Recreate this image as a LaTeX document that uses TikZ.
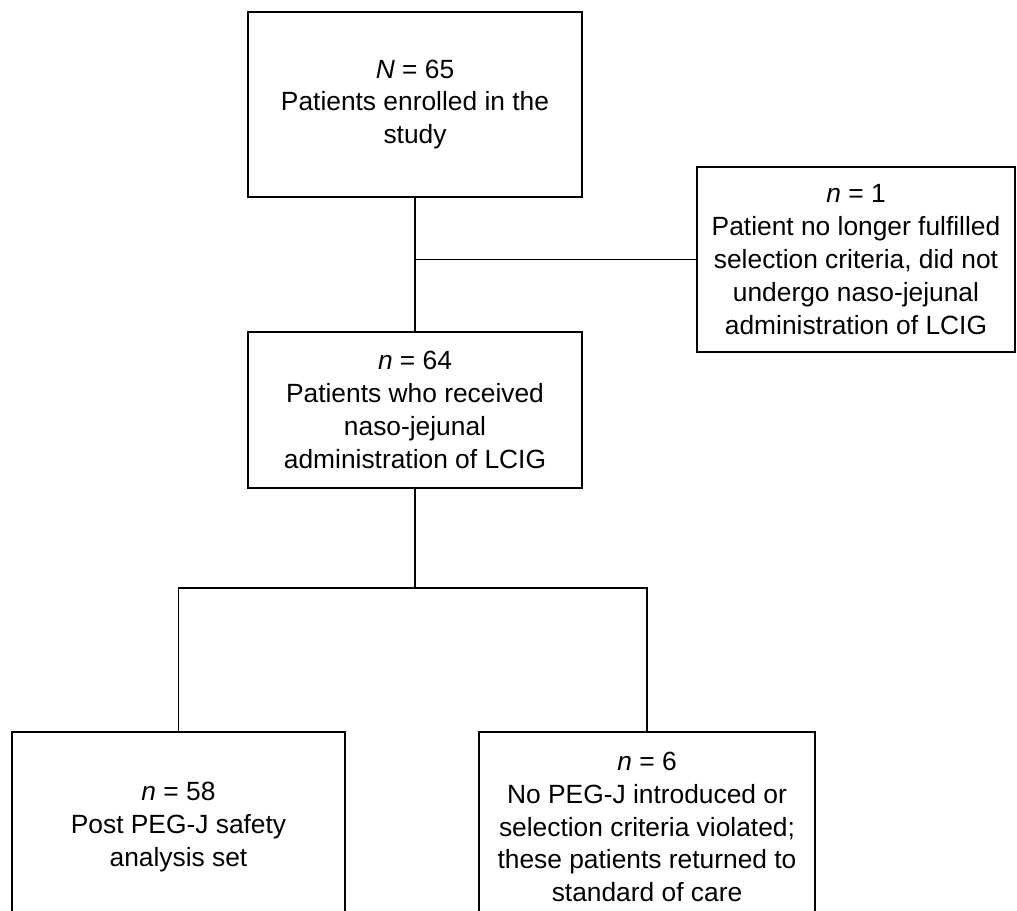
\documentclass[tikz,border=0pt]{standalone}
\usepackage{fontspec}
\setmainfont{Liberation Sans}

\begin{document}
\begin{tikzpicture}[x=0.02cm, y=-0.02cm, line width=1.1pt, main node/.style={draw,align=center,inner sep=0pt,font=\fontsize{15}{18.7}\selectfont}]

          \useasboundingbox (0,0) rectangle (1017,910);
          \clip (0,0) rectangle (1017,910);

          \node[main node, minimum width=6.68cm, minimum height=3.7cm] (1) at (415,104.5) {\textit{N} = 65\\Patients enrolled in the\\study};
          \node[main node, minimum width=6.68cm, minimum height=3.12cm] (2) at (415,410) {\textit{n} = 64\\Patients who received\\naso-jejunal\\administration of LCIG};
          \node[main node, minimum width=6.36cm, minimum height=3.7cm] (3) at (856,259.5) {\textit{n} = 1\\Patient no longer fulfilled\\selection criteria, did not\\undergo naso-jejunal\\administration of LCIG};
          \node[main node, minimum width=6.66cm, minimum height=3.8cm] (4) at (178.5,827) {\textit{n} = 58\\Post PEG-J safety\\analysis set};
          \node[main node, minimum width=6.72cm, minimum height=3.8cm] (5) at (647,827) {\textit{n} = 6\\No PEG-J introduced or\\selection criteria violated;\\these patients returned to\\standard of care};

          \coordinate (split) at (415,588);

          \draw (1) -- (2);
          \draw (1 |- 3) -- (3);

          \draw (2) -- (split);
          \draw (4) |- (split) -| (5);

        \end{tikzpicture}
\end{document}
